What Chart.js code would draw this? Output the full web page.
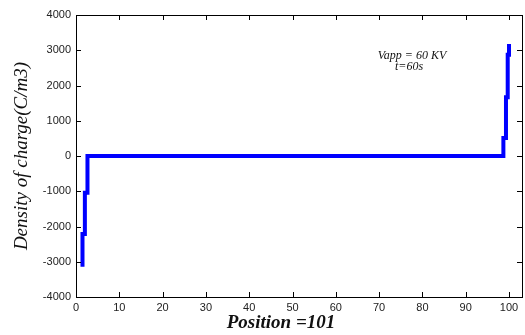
<!DOCTYPE html>
<html>
<head>
<meta charset="utf-8">
<script src="https://cdn.jsdelivr.net/npm/chart.js@4.4.0/dist/chart.umd.min.js"></script>
<style>
  html, body { margin: 0; padding: 0; background: #fff; }
  #wrap { width: 525px; height: 335px; }
</style>
</head>
<body>
<div id="wrap"><canvas id="chart"></canvas></div>
<script>
// --- Data (step profile) ---
const positions = [1.5, 1.5, 2.05, 2.05, 2.65, 2.65, 98.7, 98.7, 99.3, 99.3, 99.7, 99.7, 100.0, 100.0];
const densities = [-3140, -2210, -2210, -1040, -1040, 0, 0, 510, 510, 1670, 1670, 2870, 2870, 3180];
const xTicks = [0, 10, 20, 30, 40, 50, 60, 70, 80, 90, 100];
const yTicks = [-4000, -3000, -2000, -1000, 0, 1000, 2000, 3000, 4000];
const xTitle = 'Position =101';
const yTitle = 'Density of charge(C/m3)';
const noteLines = ['Vapp = 60 KV', 't=60s'];

const points = positions.map((x, i) => ({ x: x, y: densities[i] }));

// --- Box with inward ticks, titles and note ---
const frame = {
    id: 'frame',
    afterDraw(chart) {
        const { ctx, chartArea: a, scales } = chart;
        ctx.save();
        ctx.strokeStyle = '#000';
        ctx.lineWidth = 1;
        ctx.strokeRect(a.left + 0.5, a.top + 0.5, a.right - a.left, a.bottom - a.top);

        const len = 5;
        ctx.beginPath();
        xTicks.forEach(v => {
            const px = Math.round(scales.x.getPixelForValue(v)) + 0.5;
            ctx.moveTo(px, a.bottom); ctx.lineTo(px, a.bottom - len);
            ctx.moveTo(px, a.top); ctx.lineTo(px, a.top + len);
        });
        yTicks.forEach(v => {
            const py = Math.round(scales.y.getPixelForValue(v)) + 0.5;
            ctx.moveTo(a.left, py); ctx.lineTo(a.left + len, py);
            ctx.moveTo(a.right, py); ctx.lineTo(a.right - len, py);
        });
        ctx.stroke();

        // axis titles
        ctx.fillStyle = '#111';
        ctx.textAlign = 'center';
        ctx.textBaseline = 'middle';
        ctx.font = 'italic bold 19px "Liberation Serif"';
        ctx.fillText(xTitle, 281, 323);

        ctx.save();
        ctx.translate(22, 156);
        ctx.rotate(-Math.PI / 2);
        ctx.font = 'italic 19px "Liberation Serif"';
        ctx.fillText(yTitle, 0, 0);
        ctx.restore();

        // note
        ctx.font = 'italic 12px "Liberation Serif"';
        ctx.fillText(noteLines[0], 412, 56);
        ctx.fillText(noteLines[1], 409, 67);
        ctx.restore();
    }
};

new Chart(document.getElementById('chart'), {
    type: 'scatter',
    data: {
        datasets: [{
            data: points,
            showLine: true,
            borderColor: '#0000ff',
            borderWidth: 4,
            pointRadius: 0,
            tension: 0
        }]
    },
    options: {
        responsive: true,
        maintainAspectRatio: false,
        animation: false,
        layout: { padding: { top: 15, right: 3, left: 0, bottom: 0 } },
        plugins: {
            legend: { display: false },
            tooltip: { enabled: false }
        },
        scales: {
            x: {
                type: 'linear',
                min: 0,
                max: 103,
                afterBuildTicks: s => { s.ticks = xTicks.map(v => ({ value: v })); },
                afterFit: s => { s.height = 38; },
                grid: { display: false, drawTicks: false },
                border: { display: false },
                ticks: {
                    color: '#222',
                    padding: 4,
                    maxRotation: 0,
                    callback: v => String(v),
                    font: { family: 'Liberation Sans', size: 11 }
                }
            },
            y: {
                min: -4000,
                max: 4000,
                afterBuildTicks: s => { s.ticks = yTicks.map(v => ({ value: v })); },
                afterFit: s => { s.width = 76; },
                grid: { display: false, drawTicks: false },
                border: { display: false },
                ticks: {
                    color: '#222',
                    padding: 5,
                    callback: v => String(v),
                    font: { family: 'Liberation Sans', size: 11 }
                }
            }
        }
    },
    plugins: [frame]
});
</script>
</body>
</html>
